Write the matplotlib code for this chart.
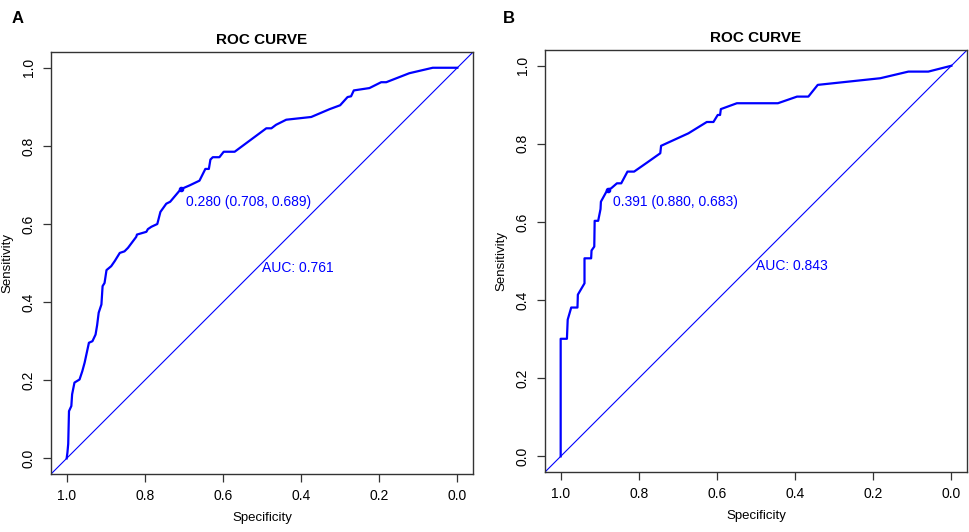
import numpy as np
import matplotlib
matplotlib.use("Agg")
import matplotlib.pyplot as plt

plt.rcParams['font.family'] = ['Liberation Sans', 'DejaVu Sans']

# panel A curve (specificity, sensitivity)
spec_a = [1.0, 0.998, 0.996, 0.994, 0.988, 0.986, 0.980, 0.967, 0.960, 0.954,
          0.943, 0.934, 0.926, 0.922, 0.918, 0.911, 0.908, 0.903, 0.898, 0.886,
          0.877, 0.864, 0.852, 0.843, 0.822, 0.820, 0.796, 0.792, 0.783, 0.768,
          0.760, 0.745, 0.735, 0.708, 0.685, 0.660, 0.645, 0.636, 0.632, 0.626,
          0.609, 0.598, 0.570, 0.489, 0.476, 0.464, 0.438, 0.374, 0.327, 0.300,
          0.281, 0.272, 0.265, 0.225, 0.195, 0.182, 0.123, 0.063, 0.0]
sens_a = [0.0, 0.015, 0.037, 0.121, 0.134, 0.164, 0.194, 0.202, 0.223, 0.245,
          0.296, 0.300, 0.317, 0.341, 0.373, 0.394, 0.441, 0.449, 0.482, 0.492,
          0.505, 0.526, 0.530, 0.539, 0.567, 0.573, 0.580, 0.587, 0.593, 0.600,
          0.631, 0.652, 0.657, 0.689, 0.699, 0.711, 0.741, 0.741, 0.765, 0.771,
          0.771, 0.785, 0.785, 0.845, 0.845, 0.854, 0.867, 0.874, 0.894, 0.904,
          0.925, 0.927, 0.942, 0.948, 0.963, 0.963, 0.986, 1.0, 1.0]

# panel B curve
spec_b = [1.0, 1.0, 0.984, 0.982, 0.973, 0.957, 0.956, 0.939, 0.939, 0.922,
          0.921, 0.914, 0.913, 0.904, 0.898, 0.897, 0.880, 0.871, 0.856, 0.845,
          0.829, 0.812, 0.779, 0.745, 0.743, 0.673, 0.626, 0.609, 0.598, 0.592,
          0.590, 0.549, 0.444, 0.395, 0.366, 0.342, 0.182, 0.110, 0.059, 0.0]
sens_b = [0.0, 0.301, 0.301, 0.350, 0.381, 0.381, 0.414, 0.443, 0.507, 0.507,
          0.527, 0.537, 0.603, 0.603, 0.633, 0.652, 0.683, 0.686, 0.699, 0.699,
          0.729, 0.729, 0.752, 0.776, 0.795, 0.827, 0.856, 0.856, 0.874, 0.874,
          0.889, 0.904, 0.904, 0.921, 0.921, 0.951, 0.968, 0.985, 0.985, 1.0]

panels = [
    dict(letter='A', spec=spec_a, sens=sens_a, thr=0.280, best=(0.708, 0.689),
         auc=0.761, pos=[0.0526, 0.109, 0.435, 0.793]),
    dict(letter='B', spec=spec_b, sens=sens_b, thr=0.391, best=(0.880, 0.683),
         auc=0.843, pos=[0.5619, 0.1128, 0.435, 0.793]),
]
letter_x = [0.012, 0.518]

blue = '#0000FF'
fig = plt.figure(figsize=(9.7, 5.32), dpi=100)

for p, lx in zip(panels, letter_x):
    ax = fig.add_axes(p['pos'])
    ax.plot(p['spec'], p['sens'], color=blue, lw=1.6, solid_joinstyle='round')
    ax.axline((1, 0), (0, 1), color=blue, lw=0.8)
    bx, by = p['best']
    ax.plot([bx], [by], 'o', color=blue, ms=3)
    ax.annotate('%.3f (%.3f, %.3f)' % (p['thr'], bx, by), (bx, by),
                xytext=(4, -4), textcoords='offset points', ha='left', va='top',
                color=blue, fontsize=10)
    ax.text(0.5, 0.505, 'AUC: %.3f' % p['auc'], color=blue, fontsize=10,
            ha='left', va='top')
    ax.set_xlim(1.04, -0.04)
    ax.set_ylim(-0.04, 1.04)
    ticks = [0.0, 0.2, 0.4, 0.6, 0.8, 1.0]
    ax.set_xticks(ticks)
    ax.set_yticks(ticks)
    ax.set_xticklabels(['%.1f' % t for t in ticks])
    ax.set_yticklabels(['%.1f' % t for t in ticks], rotation=90, va='center')
    ax.tick_params(direction='out', length=6, width=0.9, labelsize=10,
                   color='#333333', pad=5)
    for s in ax.spines.values():
        s.set_color('#333333')
        s.set_linewidth(1.0)
    ax.set_xlabel('Specificity', fontsize=9.5, labelpad=6)
    ax.set_ylabel('Sensitivity', fontsize=9.5, labelpad=6)
    ax.set_title('ROC CURVE', fontsize=11, fontweight='bold', pad=6)
    fig.text(lx, 0.965, p['letter'], fontsize=12, fontweight='bold',
             ha='left', va='center')

fig.savefig('out.png', dpi=100)
